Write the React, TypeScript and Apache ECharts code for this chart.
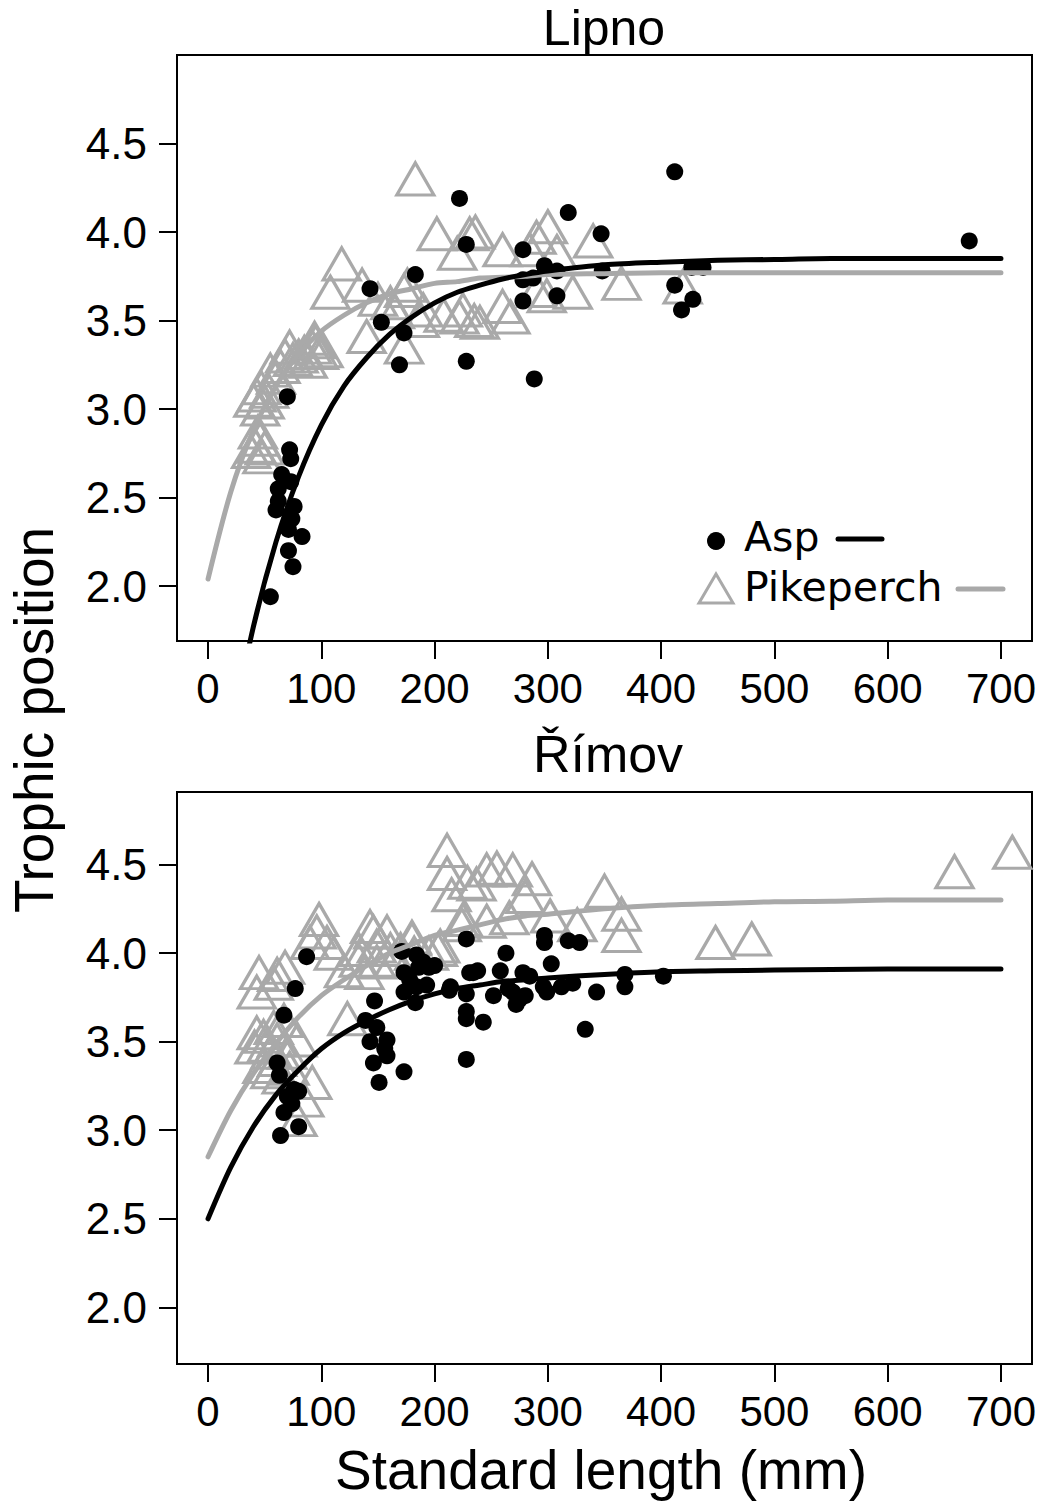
import React, { useEffect, useRef } from "react";
import * as echarts from "echarts";

// ---------- Data (Standard length mm, Trophic position) ----------
const lipnoAsp: number[][] = [
  [55, 1.94], [70, 3.07], [72, 2.77], [73, 2.72], [65, 2.63], [73, 2.59], [62, 2.55], [62, 2.48],
  [76, 2.45], [60, 2.43], [74, 2.38], [71, 2.32], [83, 2.28], [71, 2.2], [75, 2.11],
  [143, 3.68], [153, 3.49], [173, 3.43], [169, 3.25], [183, 3.76], [222, 4.19], [228, 3.93],
  [228, 3.27], [278, 3.9], [318, 4.11], [347, 3.99], [297, 3.81], [278, 3.73], [287, 3.74],
  [308, 3.78], [278, 3.61], [308, 3.64], [288, 3.17], [348, 3.78], [412, 4.34], [427, 3.8],
  [437, 3.8], [412, 3.7], [428, 3.62], [418, 3.56], [672, 3.95],
];

const lipnoPike: number[][] = [
  [38, 2.76], [42, 2.79], [46, 2.83], [50, 2.78], [44, 2.87], [48, 2.73],
  [40, 3.05], [43, 3.08], [46, 3.0], [50, 3.04], [54, 3.1], [47, 3.12],
  [55, 3.22], [60, 3.18], [64, 3.24], [68, 3.3], [72, 3.35], [75, 3.28],
  [80, 3.3], [85, 3.32], [88, 3.27], [92, 3.35], [95, 3.38], [98, 3.32], [102, 3.33], [94, 3.4],
  [108, 3.66], [118, 3.82], [136, 3.7], [140, 3.41], [161, 3.6], [173, 3.67], [173, 3.35],
  [176, 3.7], [183, 4.3], [190, 3.56], [187, 3.5], [202, 3.99], [208, 3.53], [220, 3.88],
  [222, 3.52], [231, 3.99], [236, 4.0], [235, 3.5], [240, 3.49], [225, 3.56], [260, 3.9],
  [260, 3.58], [267, 3.52], [284, 3.9], [290, 3.97], [300, 4.03], [308, 3.89], [290, 3.67],
  [299, 3.64], [322, 3.66], [340, 3.95], [365, 3.71], [419, 3.69], [150, 3.62], [165, 3.55],
];

const rimovAsp: number[][] = [
  [87, 3.98], [77, 3.8], [67, 3.65], [61, 3.38], [63, 3.31], [76, 3.23], [80, 3.22], [70, 3.19],
  [74, 3.15], [67, 3.1], [80, 3.02], [64, 2.97],
  [147, 3.73], [139, 3.62], [149, 3.58], [143, 3.5], [158, 3.51], [156, 3.46], [146, 3.38],
  [158, 3.42], [151, 3.27], [173, 3.33],
  [171, 4.01], [184, 3.99], [195, 3.92], [173, 3.89], [186, 3.92], [173, 3.78], [184, 3.81],
  [193, 3.82], [183, 3.72], [213, 3.79],
  [228, 4.08], [231, 3.89], [228, 3.77], [228, 3.67], [228, 3.63], [228, 3.4],
  [263, 4.0], [297, 4.1], [297, 4.06], [318, 4.07], [328, 4.06], [303, 3.94], [234, 3.89],
  [238, 3.9], [258, 3.9], [278, 3.89], [284, 3.87], [214, 3.81], [252, 3.76], [269, 3.78],
  [275, 3.74], [272, 3.71], [296, 3.81], [299, 3.78], [312, 3.81], [322, 3.83], [343, 3.78],
  [368, 3.88], [368, 3.81], [402, 3.87], [333, 3.57], [243, 3.61], [178, 3.85], [190, 3.95],
  [200, 3.93], [280, 3.76], [265, 3.8],
];

const rimovPike: number[][] = [
  [45, 3.89], [43, 3.78], [61, 3.88], [68, 3.92], [58, 3.83], [43, 3.55], [41, 3.47], [49, 3.53],
  [55, 3.44], [61, 3.51], [67, 3.62], [48, 3.36], [55, 3.33], [61, 3.4], [70, 3.44], [79, 3.51],
  [92, 3.27], [85, 3.17], [79, 3.06], [52, 3.48], [58, 3.58], [65, 3.3], [72, 3.35],
  [98, 4.19], [96, 4.12], [90, 4.06], [105, 4.06], [111, 4.0], [123, 3.63], [133, 4.02],
  [133, 3.96], [146, 4.12], [149, 4.04], [158, 4.12], [161, 4.02], [138, 3.89], [149, 3.95],
  [164, 3.96], [180, 4.08], [182, 4.0], [195, 4.0], [205, 4.04], [211, 4.58], [211, 4.45],
  [215, 4.33], [229, 4.4], [224, 4.16], [246, 4.47], [255, 4.48], [269, 4.47], [286, 4.42],
  [237, 4.39], [280, 4.32], [225, 4.19], [246, 4.18], [266, 4.2], [302, 4.21], [326, 4.16],
  [350, 4.35], [365, 4.22], [365, 4.1], [180, 4.09], [203, 4.02], [143, 4.15], [448, 4.06],
  [480, 4.08], [659, 4.46], [710, 4.57], [120, 3.9], [170, 4.02],
];

// Fitted curves
const lipnoAspCurve: number[][] = [
  [20, 1.15], [40, 1.77], [60, 2.25], [80, 2.62], [100, 2.91], [120, 3.13], [140, 3.29],
  [160, 3.42], [180, 3.52], [200, 3.6], [220, 3.66], [240, 3.7], [260, 3.735], [280, 3.76],
  [300, 3.78], [350, 3.815], [400, 3.83], [450, 3.84], [500, 3.845], [550, 3.85], [600, 3.85],
  [650, 3.85], [700, 3.85],
];
const lipnoPikeCurve: number[][] = [
  [0, 2.04], [20, 2.53], [40, 2.88], [60, 3.13], [80, 3.31], [100, 3.44], [120, 3.53],
  [140, 3.6], [160, 3.65], [180, 3.68], [200, 3.71], [220, 3.72], [240, 3.74], [260, 3.745],
  [280, 3.75], [300, 3.76], [350, 3.765], [400, 3.77], [450, 3.77], [500, 3.77], [550, 3.77],
  [600, 3.77], [650, 3.77], [700, 3.77],
];
const rimovAspCurve: number[][] = [
  [0, 2.5], [20, 2.79], [40, 3.02], [60, 3.2], [80, 3.34], [100, 3.46], [120, 3.55],
  [140, 3.62], [160, 3.68], [180, 3.73], [200, 3.77], [220, 3.8], [240, 3.82], [260, 3.84],
  [280, 3.85], [300, 3.86], [350, 3.88], [400, 3.895], [450, 3.9], [500, 3.905], [550, 3.907],
  [600, 3.91], [650, 3.91], [700, 3.91],
];
const rimovPikeCurve: number[][] = [
  [0, 2.85], [20, 3.11], [40, 3.32], [60, 3.49], [80, 3.64], [100, 3.76], [120, 3.85],
  [140, 3.93], [160, 4.0], [180, 4.05], [200, 4.1], [220, 4.13], [240, 4.16], [260, 4.19],
  [280, 4.21], [300, 4.22], [350, 4.25], [400, 4.27], [450, 4.28], [500, 4.29], [550, 4.293],
  [600, 4.3], [650, 4.3], [700, 4.3],
];

const xTicks = [0, 100, 200, 300, 400, 500, 600, 700];
const yTicks = [2.0, 2.5, 3.0, 3.5, 4.0, 4.5];
const panelTitles = ["Lipno", "Římov"];
const legendNames = ["Asp", "Pikeperch"];

const GRAY = "#a9a9a9";
const FONT = "Liberation Sans, Arial, sans-serif";

export default function App() {
  const ref = useRef<HTMLDivElement>(null);

  useEffect(() => {
    if (!ref.current) return;
    const chart = echarts.init(ref.current, null, { renderer: "svg" });

    const xAxisCfg = (gridIndex: number) => ({
      type: "value",
      gridIndex,
      min: -27.4,
      max: 727.4,
      axisLine: { show: false, onZero: false },
      splitLine: { show: false },
      axisTick: {
        show: true,
        customValues: xTicks,
        length: 18,
        lineStyle: { color: "#000", width: 2 },
      },
      axisLabel: {
        customValues: xTicks,
        margin: 26,
        fontFamily: FONT,
        fontSize: 42,
        color: "#000",
      },
    });
    const yAxisCfg = (gridIndex: number, min: number, max: number) => ({
      type: "value",
      gridIndex,
      min,
      max,
      axisLine: { show: false, onZero: false },
      splitLine: { show: false },
      axisTick: {
        show: true,
        customValues: yTicks,
        length: 18,
        lineStyle: { color: "#000", width: 2 },
      },
      axisLabel: {
        customValues: yTicks,
        margin: 30,
        fontFamily: FONT,
        fontSize: 44,
        color: "#000",
        formatter: (v: number) => v.toFixed(1),
      },
    });

    const pikeScatter = (i: number, data: number[][]) => ({
      type: "scatter",
      xAxisIndex: i,
      yAxisIndex: i,
      data,
      symbol: "triangle",
      symbolSize: [37, 32],
      itemStyle: { color: "rgba(0,0,0,0)", borderColor: GRAY, borderWidth: 3.2, opacity: 1 },
      silent: true,
    });
    const aspScatter = (i: number, data: number[][]) => ({
      type: "scatter",
      xAxisIndex: i,
      yAxisIndex: i,
      data,
      symbol: "circle",
      symbolSize: 17,
      itemStyle: { color: "#000", opacity: 1 },
      silent: true,
    });
    const curve = (i: number, data: number[][], color: string) => ({
      type: "line",
      xAxisIndex: i,
      yAxisIndex: i,
      data,
      smooth: 0.3,
      showSymbol: false,
      symbol: "none",
      lineStyle: { color, width: 5, cap: "round", join: "round" },
      silent: true,
    });

    const option: any = {
      animation: false,
      backgroundColor: "#fff",
      grid: [
        { left: 177, top: 55, width: 855, height: 586, show: true, borderColor: "#000", borderWidth: 2, backgroundColor: "transparent" },
        { left: 177, top: 792, width: 855, height: 572, show: true, borderColor: "#000", borderWidth: 2, backgroundColor: "transparent" },
      ],
      xAxis: [xAxisCfg(0), xAxisCfg(1)],
      yAxis: [yAxisCfg(0, 1.69, 5.0), yAxisCfg(1, 1.68, 4.91)],
      series: [
        pikeScatter(0, lipnoPike),
        aspScatter(0, lipnoAsp),
        curve(0, lipnoPikeCurve, GRAY),
        curve(0, lipnoAspCurve, "#000"),
        pikeScatter(1, rimovPike),
        aspScatter(1, rimovAsp),
        curve(1, rimovPikeCurve, GRAY),
        curve(1, rimovAspCurve, "#000"),
      ],
      graphic: [
        { type: "text", x: 604, y: 28, style: { text: panelTitles[0], font: `50px ${FONT}`, fill: "#000", textAlign: "center", textVerticalAlign: "middle" } },
        { type: "text", x: 608, y: 754, style: { text: panelTitles[1], font: `52px ${FONT}`, fill: "#000", textAlign: "center", textVerticalAlign: "middle" } },
        { type: "text", x: 601, y: 1470, style: { text: "Standard length (mm)", font: `55px ${FONT}`, fill: "#000", textAlign: "center", textVerticalAlign: "middle" } },
        { type: "text", x: 34, y: 720, rotation: Math.PI / 2, style: { text: "Trophic position", font: `55px ${FONT}`, fill: "#000", textAlign: "center", textVerticalAlign: "middle" } },
        // legend
        { type: "circle", shape: { cx: 716, cy: 541, r: 9 }, style: { fill: "#000" } },
        { type: "text", x: 744, y: 537, style: { text: legendNames[0], font: `41px DejaVu Sans, sans-serif`, fill: "#000", textAlign: "left", textVerticalAlign: "middle" } },
        { type: "line", shape: { x1: 838, y1: 539, x2: 882, y2: 539 }, style: { stroke: "#000", lineWidth: 5, lineCap: "round" } },
        { type: "polygon", shape: { points: [[699, 603], [733, 603], [716, 574]] }, style: { fill: "none", stroke: GRAY, lineWidth: 3 } },
        { type: "text", x: 744, y: 587, style: { text: legendNames[1], font: `41px DejaVu Sans, sans-serif`, fill: "#000", textAlign: "left", textVerticalAlign: "middle" } },
        { type: "line", shape: { x1: 958, y1: 589, x2: 1003, y2: 589 }, style: { stroke: GRAY, lineWidth: 5, lineCap: "round" } },
      ],
    };

    chart.setOption(option);
    return () => chart.dispose();
  }, []);

  return (
    <div
      ref={ref}
      style={{ position: "fixed", left: 0, top: 0, width: 1044, height: 1504, background: "#fff" }}
    />
  );
}
